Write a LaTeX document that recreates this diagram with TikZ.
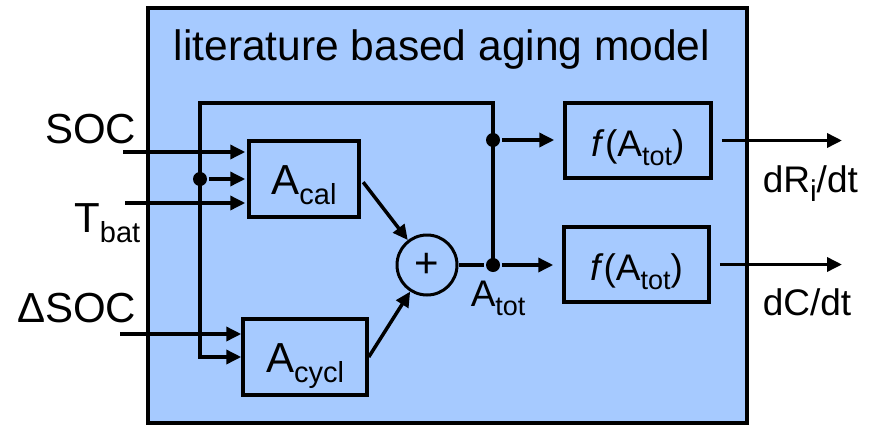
\documentclass[tikz,border=0pt]{standalone}
\usepackage{fontspec}
\setmainfont{Liberation Sans}
\usetikzlibrary{positioning,arrows.meta,shapes}
\definecolor{modelblue}{RGB}{166,202,255}
\newcommand{\lowidx}[2][29]{\smash{\raisebox{-0.25em}{\fontsize{#1}{#1}\selectfont #2}}}
\tikzset{
  >={Triangle[length=15pt,width=14pt]},
  every node/.style={font=\fontsize{42}{42}\selectfont, inner sep=0pt},
  block/.style={draw, minimum height=76pt, text height=30pt, text depth=0pt},
  fblock/.style={block, small, minimum height=75pt, text height=31pt},
  junction/.style={circle, fill, minimum size=14pt},
  small/.style={font=\fontsize{37}{37}\selectfont},
}

\begin{document}
\begin{tikzpicture}[x=1pt,y=-1pt,line width=3.5pt]
  \useasboundingbox (0,0) rectangle (878,426);
  % Frame
  \node[draw, fill=modelblue, minimum width=599pt, minimum height=415pt,
        outer sep=0pt, anchor=north west] (model) at (148,8) {};
  \node[anchor=base west, font=\fontsize{42.5}{42.5}\selectfont] (title) at (172,60)
    {literature based aging model};

  % Blocks
  \node[block, minimum width=110pt] (Acal) at (304,179) {A\lowidx{cal}};
  \node[block, minimum width=124pt] (Acycl) at (305,357) {A\lowidx{cycl}};
  \node[draw, circle, line width=3pt, minimum size=60pt] (sum) at (427,265) {+};
  \node[fblock, minimum width=146pt] (fR) at (638,140.5) {\textit{f}(A\lowidx[27]{tot})};
  \node[fblock, minimum width=145pt] (fC) at (636.5,264.5) {\textit{f}(A\lowidx[27]{tot})};

  % Junctions
  \node[junction] (jcal) at (200,179) {};
  \node[junction] (jfR) at (493,140) {};
  \node[junction] (jtot) at (493,265) {};
  \coordinate (busTL) at (200,103);
  \coordinate (busTR) at (493,103);
  \coordinate (busBL) at (200,357);

  % Inputs and outputs
  \coordinate (socin) at (123,152);
  \coordinate (tbatin) at (125,203);
  \coordinate (dsocin) at (120,334);
  \coordinate (dRout) at (842,140);
  \coordinate (dCout) at (842,263);
  \node[anchor=base east] (soc) at (138,143) {SOC};
  \node[anchor=base east] (tbat) at (142,232) {T\lowidx{bat}};
  \node[anchor=base east] (dsoc) at (138,322) {ΔSOC};
  \node[small, anchor=base west] (Atot) at (469,306) {A\lowidx[27]{tot}};
  \node[small, anchor=base west] (dRlab) at (761,192) {dR\lowidx[30]{i}/dt};
  \node[small, anchor=base west] (dClab) at (761,315) {dC/dt};

  % Connections
  \path[->]
    (socin) edge[shorten >=2pt] (Acal.west |- socin)
    (jcal) edge[shorten >=2pt] (Acal.west)
    (tbatin) edge[shorten >=2pt] (Acal.west |- tbatin)
    (dsocin) edge (Acycl.west |- dsocin)
    (Acal.east) edge[shorten <=4pt] (sum)
    (Acycl.east) edge (sum)
    (jfR) edge[shorten >=9pt] (fR.west |- jfR)
    (jtot) edge[shorten >=9pt] (fC.west |- jtot)
    (fR.east) edge[shorten <=9pt] (fR.east -| dRout)
    (fC.east) edge[shorten <=9pt] (fC.east -| dCout);
  \draw (sum) -- (jtot);
  \draw[->] (jtot.center) -- (busTR) -- (busTL) -- (busBL) -- (Acycl.west);
\end{tikzpicture}
\end{document}
